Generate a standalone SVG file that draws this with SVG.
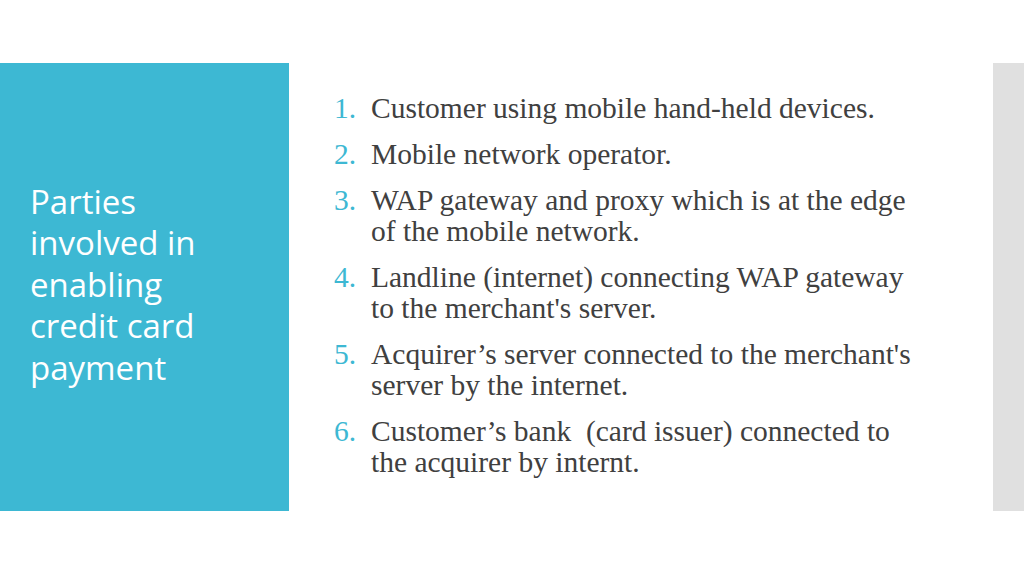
<svg xmlns="http://www.w3.org/2000/svg" width="1024" height="576" viewBox="0 0 1024 576">
<style>
.t{font-family:"Open Sans","Noto Sans",sans-serif;font-size:33px;fill:#fff}
.n{font-family:"Liberation Serif",serif;font-size:29.5px;fill:#3DB8D3}
.b{font-family:"Liberation Serif",serif;font-size:29.5px;fill:#404040}
</style>
<rect width="1024" height="576" fill="#fff"/>
<rect x="0" y="63" width="289" height="448" fill="#3DB8D3"/>
<rect x="993" y="63" width="31" height="448" fill="#E0E0E0"/>
<text class="t" x="30"><tspan x="30" y="214">Parties</tspan><tspan x="30" y="255">involved in</tspan><tspan x="30" y="297">enabling</tspan><tspan x="30" y="338">credit card</tspan><tspan x="30" y="380">payment</tspan></text>
<g class="n">
<text class="n" x="334" y="118">1.</text>
<text class="n" x="334" y="164">2.</text>
<text class="n" x="334" y="210">3.</text>
<text class="n" x="334" y="287">4.</text>
<text class="n" x="334" y="364">5.</text>
<text class="n" x="334" y="441">6.</text>
</g>
<text class="b" x="371" y="118">Customer using mobile hand-held devices.</text>
<text class="b" x="371" y="164">Mobile network operator.</text>
<text class="b" x="371" y="210">WAP gateway and proxy which is at the edge</text>
<text class="b" x="371" y="241">of the mobile network.</text>
<text class="b" x="371" y="287">Landline (internet) connecting WAP gateway</text>
<text class="b" x="371" y="318">to the merchant's server.</text>
<text class="b" x="371" y="364">Acquirer’s server connected to the merchant's</text>
<text class="b" x="371" y="395">server by the internet.</text>
<text class="b" x="371" y="441" xml:space="preserve">Customer’s bank  (card issuer) connected to</text>
<text class="b" x="371" y="472">the acquirer by internt.</text>
</svg>
